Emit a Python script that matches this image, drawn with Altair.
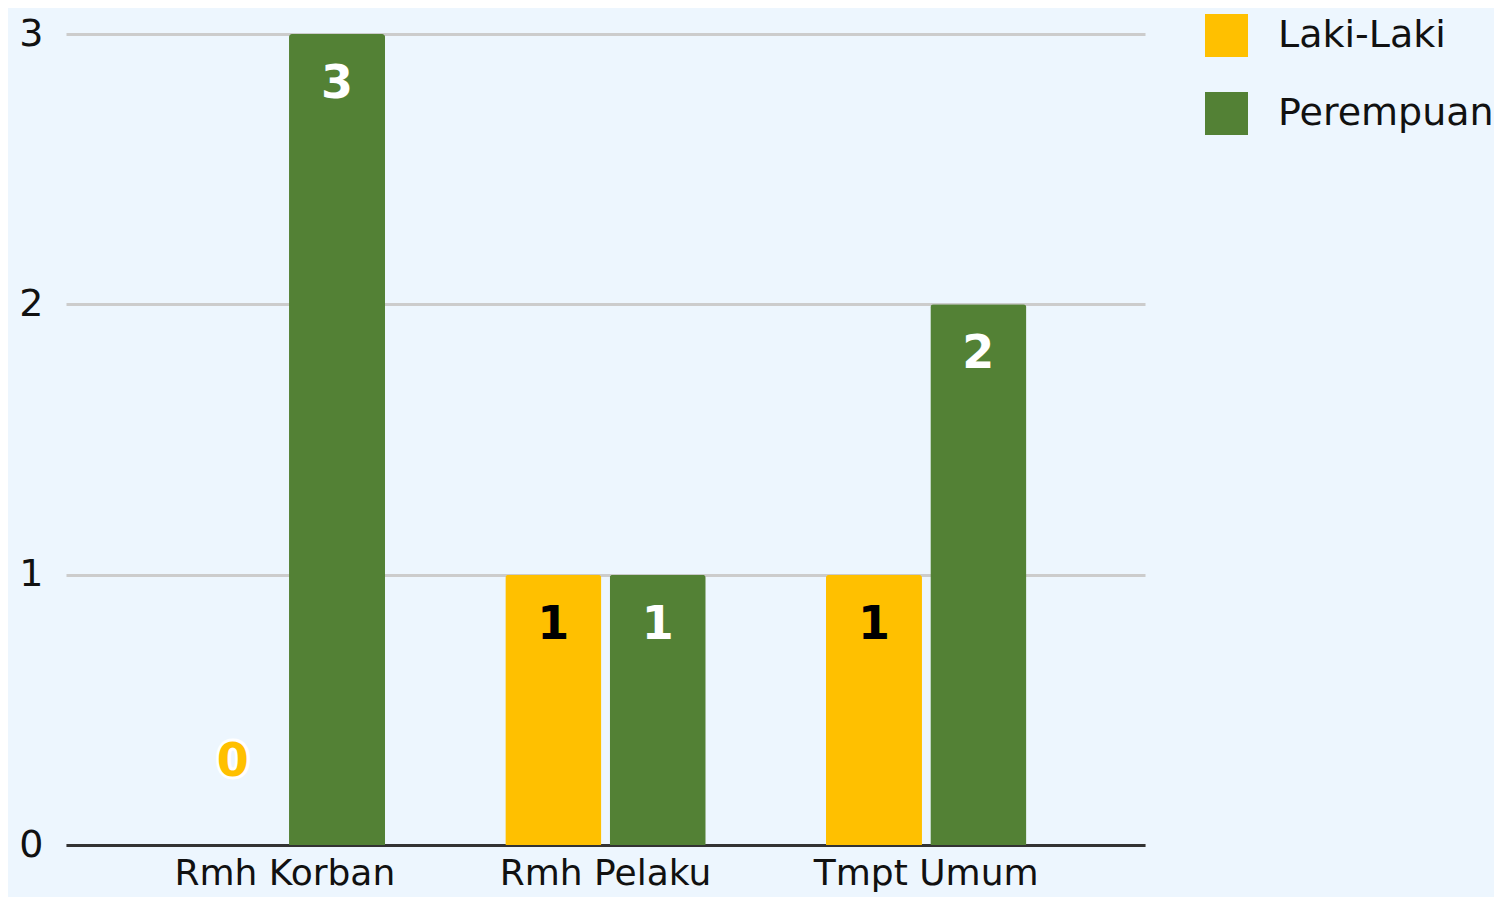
import altair as alt
import pandas as pd

categories = ["Rmh Korban", "Rmh Pelaku", "Tmpt Umum"]
series = ["Laki-Laki", "Perempuan"]
laki = [0, 1, 1]
perempuan = [3, 1, 2]
colors = ["#FFC000", "#538135"]

rows = []
for c, l, p in zip(categories, laki, perempuan):
    rows.append({"lokasi": c, "jenis": series[0], "jumlah": l})
    rows.append({"lokasi": c, "jenis": series[1], "jumlah": p})
df = pd.DataFrame(rows)

FONT = "DejaVu Sans"

x = alt.X(
    "lokasi:N", sort=categories, title=None,
    scale=alt.Scale(paddingInner=0.375, paddingOuter=0.37),
    axis=alt.Axis(labelAngle=0, labelFontSize=36, labelFont=FONT, labelColor="#111111",
                  domainColor="#333333", domainWidth=3, ticks=False, labelPadding=11,
                  labelLimit=0, grid=False),
)
xo = alt.XOffset("jenis:N", sort=series, scale=alt.Scale(paddingInner=0.08))
y = alt.Y(
    "jumlah:Q", title=None, scale=alt.Scale(domain=[0, 3]),
    axis=alt.Axis(values=[0, 1, 2, 3], format="d", grid=True, gridColor="#CCCCCC",
                  gridWidth=3, domain=False, ticks=False, labelPadding=23,
                  labelFontSize=38, labelFont=FONT, labelColor="#111111"),
)
color = alt.Color(
    "jenis:N", sort=series,
    scale=alt.Scale(domain=series, range=colors),
    legend=alt.Legend(title=None, orient="none", legendX=1139, legendY=-20,
                      symbolType="square", symbolSize=1849, symbolStrokeWidth=0,
                      symbolOpacity=1, labelFontSize=38, labelFont=FONT,
                      labelColor="#111111", labelOffset=30, rowPadding=35, padding=0,
                      labelLimit=0),
)

base = alt.Chart(df)

bars = base.mark_bar(cornerRadiusTopLeft=3, cornerRadiusTopRight=3).encode(
    x=x, xOffset=xo, y=y, color=color
)

labels = base.transform_filter("datum.jumlah > 0").mark_text(
    dy=50, fontSize=46, font=FONT, fontWeight="bold", baseline="middle"
).encode(
    x=x, xOffset=xo, y=y, text="jumlah:Q",
    color=alt.condition("datum.jenis == 'Laki-Laki'", alt.value("#000000"), alt.value("#FFFFFF")),
)

zero_halo = base.transform_filter("datum.jumlah == 0").mark_text(
    dy=-83, fontSize=46, font=FONT, fontWeight="bold", baseline="middle",
    color="#FFFFFF", stroke="#FFFFFF", strokeWidth=6,
).encode(x=x, xOffset=xo, y=y, text="jumlah:Q")

zero_text = base.transform_filter("datum.jumlah == 0").mark_text(
    dy=-83, fontSize=46, font=FONT, fontWeight="bold", baseline="middle",
    color="#FFC000",
).encode(x=x, xOffset=xo, y=y, text="jumlah:Q")

chart = alt.layer(bars, labels, zero_halo, zero_text).properties(
    width=1079, height=811,
    background="#EDF6FE",
    autosize=alt.AutoSizeParams(type="none"),
    padding={"left": 58, "top": 26, "right": 349, "bottom": 52},
).configure_view(stroke=None)

chart.save("out.html", embed_options={"renderer": "svg", "actions": False})
